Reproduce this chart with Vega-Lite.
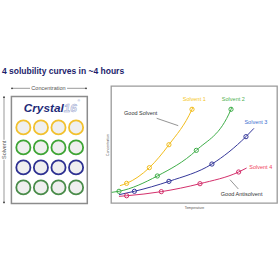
{
  "$schema": "https://vega.github.io/schema/vega-lite/v6.json",
  "padding": {"top": 66, "left": 0, "right": 0, "bottom": 0},
  "title": {"text": "4 solubility curves in ~4 hours", "anchor": "start", "fontSize": 8.5, "fontWeight": "bold", "color": "#1d1d6b", "font": "Liberation Sans", "offset": 10, "dx": 2},
  "config": {
    "view": {"stroke": null},
    "font": "Liberation Sans",
    "axis": {"grid": false, "labels": false, "ticks": false, "domain": false, "titleFontSize": 3.5, "titleFontWeight": "normal", "titleColor": "#555555", "titlePadding": 2}
  },
  "spacing": 15,
  "resolve": {"scale": {"color": "independent", "stroke": "independent", "x": "independent", "y": "independent"}},
  "datasets": {
    "plate": [
      {"solvent": "Solvent 1", "row": 1, "col": 1}, {"solvent": "Solvent 1", "row": 1, "col": 2}, {"solvent": "Solvent 1", "row": 1, "col": 3}, {"solvent": "Solvent 1", "row": 1, "col": 4},
      {"solvent": "Solvent 2", "row": 2, "col": 1}, {"solvent": "Solvent 2", "row": 2, "col": 2}, {"solvent": "Solvent 2", "row": 2, "col": 3}, {"solvent": "Solvent 2", "row": 2, "col": 4},
      {"solvent": "Solvent 3", "row": 3, "col": 1}, {"solvent": "Solvent 3", "row": 3, "col": 2}, {"solvent": "Solvent 3", "row": 3, "col": 3}, {"solvent": "Solvent 3", "row": 3, "col": 4},
      {"solvent": "Solvent 4", "row": 4, "col": 1}, {"solvent": "Solvent 4", "row": 4, "col": 2}, {"solvent": "Solvent 4", "row": 4, "col": 3}, {"solvent": "Solvent 4", "row": 4, "col": 4}
    ],
    "curves": [
      {"solvent": "Solvent 1", "T": 5.4, "C": 14.8}, {"solvent": "Solvent 1", "T": 9.4, "C": 16.8}, {"solvent": "Solvent 1", "T": 23.1, "C": 30.2}, {"solvent": "Solvent 1", "T": 34.9, "C": 49.8}, {"solvent": "Solvent 1", "T": 48.8, "C": 80.1}, {"solvent": "Solvent 1", "T": 49.4, "C": 82},
      {"solvent": "Solvent 2", "T": 0.4, "C": 9.1}, {"solvent": "Solvent 2", "T": 4.8, "C": 10}, {"solvent": "Solvent 2", "T": 27.9, "C": 23.1}, {"solvent": "Solvent 2", "T": 51.4, "C": 45}, {"solvent": "Solvent 2", "T": 72.3, "C": 80.1}, {"solvent": "Solvent 2", "T": 72.8, "C": 82},
      {"solvent": "Solvent 3", "T": 4.8, "C": 7.1}, {"solvent": "Solvent 3", "T": 14.1, "C": 10}, {"solvent": "Solvent 3", "T": 34.9, "C": 18.5}, {"solvent": "Solvent 3", "T": 60.8, "C": 33.3}, {"solvent": "Solvent 3", "T": 81.3, "C": 56.7}, {"solvent": "Solvent 3", "T": 86.1, "C": 63.8},
      {"solvent": "Solvent 4", "T": 4.8, "C": 5.7}, {"solvent": "Solvent 4", "T": 9.4, "C": 6.2}, {"solvent": "Solvent 4", "T": 30.3, "C": 9.7}, {"solvent": "Solvent 4", "T": 53.6, "C": 16.5}, {"solvent": "Solvent 4", "T": 76.9, "C": 26.5}, {"solvent": "Solvent 4", "T": 81.7, "C": 29.9}
    ],
    "measured": [
      {"solvent": "Solvent 1", "T": 9.4, "C": 16.8}, {"solvent": "Solvent 1", "T": 23.1, "C": 30.2}, {"solvent": "Solvent 1", "T": 34.9, "C": 49.8}, {"solvent": "Solvent 1", "T": 48.8, "C": 80.1},
      {"solvent": "Solvent 2", "T": 4.8, "C": 10}, {"solvent": "Solvent 2", "T": 27.9, "C": 23.1}, {"solvent": "Solvent 2", "T": 51.4, "C": 45}, {"solvent": "Solvent 2", "T": 72.3, "C": 80.1},
      {"solvent": "Solvent 3", "T": 14.1, "C": 10}, {"solvent": "Solvent 3", "T": 34.9, "C": 18.5}, {"solvent": "Solvent 3", "T": 60.8, "C": 33.3}, {"solvent": "Solvent 3", "T": 81.3, "C": 56.7},
      {"solvent": "Solvent 4", "T": 9.4, "C": 6.2}, {"solvent": "Solvent 4", "T": 30.3, "C": 9.7}, {"solvent": "Solvent 4", "T": 53.6, "C": 16.5}, {"solvent": "Solvent 4", "T": 76.9, "C": 26.5}
    ],
    "curveLabels": [
      {"solvent": "Solvent 1", "T": 50.2, "C": 88.6},
      {"solvent": "Solvent 2", "T": 73.7, "C": 88.6},
      {"solvent": "Solvent 3", "T": 87.3, "C": 69.5},
      {"solvent": "Solvent 4", "T": 90.2, "C": 31.0}
    ],
    "notes": [
      {"text": "Good Solvent", "T": 17.9, "C": 77.2},
      {"text": "Good Antisolvent", "T": 78.7, "C": 7.4}
    ],
    "leaders": [
      {"T": 27.5, "C": 72.4, "T2": 40.5, "C2": 66.1},
      {"T": 71.7, "C": 19.9, "T2": 76.7, "C2": 12.0}
    ]
  },
  "hconcat": [
    {
      "width": 88,
      "height": 118,
      "view": {"stroke": null},
      "layer": [
        {
          "data": {"values": [{}]},
          "mark": {"type": "rect", "fill": "#ffffff", "stroke": "#8c8c8c", "strokeWidth": 1.5},
          "encoding": {
            "x": {"datum": 0.32, "type": "quantitative", "scale": {"domain": [-0.33, 4.68]}, "axis": null},
            "x2": {"datum": 4.64},
            "y": {"datum": -0.55, "type": "quantitative", "scale": {"domain": [-1.07, 4.83], "reverse": true}, "axis": null},
            "y2": {"datum": 4.8}
          }
        },
        {
          "data": {"name": "plate"},
          "mark": {"type": "point", "shape": "circle", "filled": true, "fill": "#efefef", "fillOpacity": 1, "opacity": 1, "size": 200, "strokeWidth": 1.8},
          "encoding": {
            "x": {"field": "col", "type": "quantitative", "scale": {"domain": [-0.33, 4.68]}, "axis": null},
            "y": {"field": "row", "type": "quantitative", "scale": {"domain": [-1.07, 4.83], "reverse": true}, "axis": null},
            "stroke": {"field": "solvent", "type": "nominal", "scale": {"domain": ["Solvent 1", "Solvent 2", "Solvent 3", "Solvent 4"], "range": ["#f2c12e", "#3fa535", "#2e3192", "#4a8c4a"]}, "legend": null}
          }
        },
        {
          "data": {"values": [{"t": "Crystal"}]},
          "mark": {"type": "text", "align": "right", "baseline": "middle", "fontSize": 11.8, "fontWeight": "bold", "fontStyle": "italic", "color": "#1e2a78"},
          "encoding": {
            "text": {"field": "t"},
            "x": {"datum": 3.3, "type": "quantitative", "scale": {"domain": [-0.33, 4.68]}, "axis": null},
            "y": {"datum": 0.02, "type": "quantitative", "scale": {"domain": [-1.07, 4.83], "reverse": true}, "axis": null}
          }
        },
        {
          "data": {"values": [{"t": "16"}]},
          "mark": {"type": "text", "align": "left", "baseline": "middle", "fontSize": 11.8, "fontWeight": "bold", "fontStyle": "italic", "fill": "#eef0f7", "stroke": "#9aa6cf", "strokeWidth": 0.5},
          "encoding": {
            "text": {"field": "t"},
            "x": {"datum": 3.3, "type": "quantitative", "scale": {"domain": [-0.33, 4.68]}, "axis": null},
            "y": {"datum": 0.02, "type": "quantitative", "scale": {"domain": [-1.07, 4.83], "reverse": true}, "axis": null}
          }
        },
        {
          "data": {"values": [{"t": "®"}]},
          "mark": {"type": "text", "align": "left", "baseline": "middle", "fontSize": 3.5, "color": "#8090c4"},
          "encoding": {
            "text": {"field": "t"},
            "x": {"datum": 4.08, "type": "quantitative", "scale": {"domain": [-0.33, 4.68]}, "axis": null},
            "y": {"datum": -0.3, "type": "quantitative", "scale": {"domain": [-1.07, 4.83], "reverse": true}, "axis": null}
          }
        },
        {
          "data": {"values": [{"a": 0.353, "b": 1.38}, {"a": 3.49, "b": 4.568}]},
          "mark": {"type": "rule", "color": "#555555", "strokeWidth": 0.6},
          "encoding": {
            "x": {"field": "a", "type": "quantitative", "scale": {"domain": [-0.33, 4.68]}, "axis": null},
            "x2": {"field": "b"},
            "y": {"datum": -0.955, "type": "quantitative", "scale": {"domain": [-1.07, 4.83], "reverse": true}, "axis": null}
          }
        },
        {
          "data": {"values": [{"a": 0.353}, {"a": 4.568}]},
          "mark": {"type": "circle", "color": "#333333", "size": 3, "opacity": 1},
          "encoding": {
            "x": {"field": "a", "type": "quantitative", "scale": {"domain": [-0.33, 4.68]}, "axis": null},
            "y": {"datum": -0.955, "type": "quantitative", "scale": {"domain": [-1.07, 4.83], "reverse": true}, "axis": null}
          }
        },
        {
          "data": {"values": [{"t": "Concentration"}]},
          "mark": {"type": "text", "align": "center", "baseline": "middle", "fontSize": 5.5, "color": "#555555"},
          "encoding": {
            "text": {"field": "t"},
            "x": {"datum": 2.43, "type": "quantitative", "scale": {"domain": [-0.33, 4.68]}, "axis": null},
            "y": {"datum": -0.955, "type": "quantitative", "scale": {"domain": [-1.07, 4.83], "reverse": true}, "axis": null}
          }
        },
        {
          "data": {"values": [{"a": -0.51, "b": 1.62}, {"a": 2.62, "b": 4.75}]},
          "mark": {"type": "rule", "color": "#555555", "strokeWidth": 0.6},
          "encoding": {
            "x": {"datum": -0.102, "type": "quantitative", "scale": {"domain": [-0.33, 4.68]}, "axis": null},
            "y": {"field": "a", "type": "quantitative", "scale": {"domain": [-1.07, 4.83], "reverse": true}, "axis": null},
            "y2": {"field": "b"}
          }
        },
        {
          "data": {"values": [{"a": -0.51}, {"a": 4.75}]},
          "mark": {"type": "circle", "color": "#333333", "size": 3, "opacity": 1},
          "encoding": {
            "x": {"datum": -0.102, "type": "quantitative", "scale": {"domain": [-0.33, 4.68]}, "axis": null},
            "y": {"field": "a", "type": "quantitative", "scale": {"domain": [-1.07, 4.83], "reverse": true}, "axis": null}
          }
        },
        {
          "data": {"values": [{"t": "Solvent"}]},
          "mark": {"type": "text", "align": "center", "baseline": "middle", "fontSize": 5.5, "color": "#555555", "angle": 270},
          "encoding": {
            "text": {"field": "t"},
            "x": {"datum": -0.102, "type": "quantitative", "scale": {"domain": [-0.33, 4.68]}, "axis": null},
            "y": {"datum": 2.12, "type": "quantitative", "scale": {"domain": [-1.07, 4.83], "reverse": true}, "axis": null}
          }
        }
      ]
    },
    {
      "width": 166,
      "height": 117,
      "view": {"stroke": "#9a9a9a", "strokeWidth": 1.3},
      "resolve": {"scale": {"color": "independent"}},
      "layer": [
        {
          "data": {"name": "curves"},
          "mark": {"type": "line", "interpolate": "monotone", "strokeWidth": 1},
          "encoding": {
            "x": {"field": "T", "type": "quantitative", "scale": {"domain": [0, 100]}, "title": "Temperature"},
            "y": {"field": "C", "type": "quantitative", "scale": {"domain": [0, 100]}, "title": "Concentration"},
            "color": {"field": "solvent", "type": "nominal", "scale": {"domain": ["Solvent 1", "Solvent 2", "Solvent 3", "Solvent 4"], "range": ["#f2bd1d", "#3fae49", "#35389a", "#d4306c"]}, "legend": null}
          }
        },
        {
          "data": {"name": "measured"},
          "mark": {"type": "point", "shape": "circle", "filled": false, "size": 18, "strokeWidth": 1, "opacity": 1},
          "encoding": {
            "x": {"field": "T", "type": "quantitative", "scale": {"domain": [0, 100]}, "title": "Temperature"},
            "y": {"field": "C", "type": "quantitative", "scale": {"domain": [0, 100]}, "title": "Concentration"},
            "color": {"field": "solvent", "type": "nominal", "scale": {"domain": ["Solvent 1", "Solvent 2", "Solvent 3", "Solvent 4"], "range": ["#f2bd1d", "#3fae49", "#35389a", "#d4306c"]}, "legend": null}
          }
        },
        {
          "data": {"name": "leaders"},
          "mark": {"type": "rule", "color": "#666666", "strokeWidth": 0.7},
          "encoding": {
            "x": {"field": "T", "type": "quantitative", "scale": {"domain": [0, 100]}, "title": "Temperature"},
            "y": {"field": "C", "type": "quantitative", "scale": {"domain": [0, 100]}, "title": "Concentration"},
            "x2": {"field": "T2"},
            "y2": {"field": "C2"}
          }
        },
        {
          "data": {"name": "notes"},
          "mark": {"type": "text", "fontSize": 5.5, "color": "#333333", "align": "center", "baseline": "middle"},
          "encoding": {
            "text": {"field": "text"},
            "x": {"field": "T", "type": "quantitative", "scale": {"domain": [0, 100]}, "title": "Temperature"},
            "y": {"field": "C", "type": "quantitative", "scale": {"domain": [0, 100]}, "title": "Concentration"}
          }
        },
        {
          "data": {"name": "curveLabels"},
          "mark": {"type": "text", "fontSize": 5.5, "align": "center", "baseline": "middle"},
          "encoding": {
            "text": {"field": "solvent"},
            "x": {"field": "T", "type": "quantitative", "scale": {"domain": [0, 100]}, "title": "Temperature"},
            "y": {"field": "C", "type": "quantitative", "scale": {"domain": [0, 100]}, "title": "Concentration"},
            "color": {"field": "solvent", "type": "nominal", "scale": {"domain": ["Solvent 1", "Solvent 2", "Solvent 3", "Solvent 4"], "range": ["#f5c518", "#4cb050", "#3b6fd0", "#f0435a"]}, "legend": null}
          }
        }
      ]
    }
  ]
}
